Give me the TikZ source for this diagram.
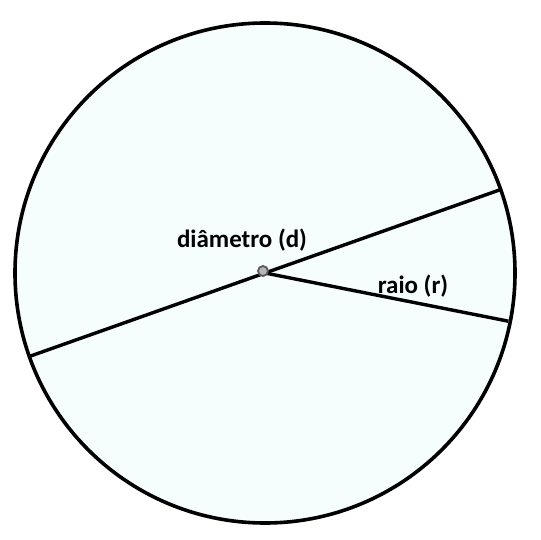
\documentclass[tikz,border=0pt]{standalone}
\usepackage{fontspec}
\setmainfont{Carlito}
\usepackage{xcolor}
\usepackage{tikz}
\usetikzlibrary{calc}
\definecolor{discfill}{HTML}{F6FDFD}
\definecolor{dotgray}{HTML}{5A5A5A}

\begin{document}
\begin{tikzpicture}[
  x=1pt,y=-1pt,
  every node/.style={font=\bfseries\fontsize{25}{28}\selectfont,inner sep=0pt},
  rim/.style={draw=black,line width=3.6pt,fill=discfill},
  chord/.style={draw=black,line width=3.4pt},
  hub/.style={circle,draw=dotgray,line width=1.8pt,fill=dotgray!45,minimum size=10pt}
]
\useasboundingbox (0,0) rectangle (540,540);
\coordinate (O) at (265,273);
\draw[rim] (O) circle (250);
\coordinate (dA) at ($(O)+(-19.5:250)$);
\coordinate (dB) at ($(O)+(160.5:250)$);
\coordinate (rA) at ($(O)+(11.2:248)$);
\draw[chord] (dB) -- (dA);
\draw[chord] (O) -- (rA);
\node[hub] (center) at (263,271) {};
\node (diam) at (242,240) {diâmetro (d)};
\node (raio) at (413,286) {raio (r)};
\end{tikzpicture}
\end{document}
